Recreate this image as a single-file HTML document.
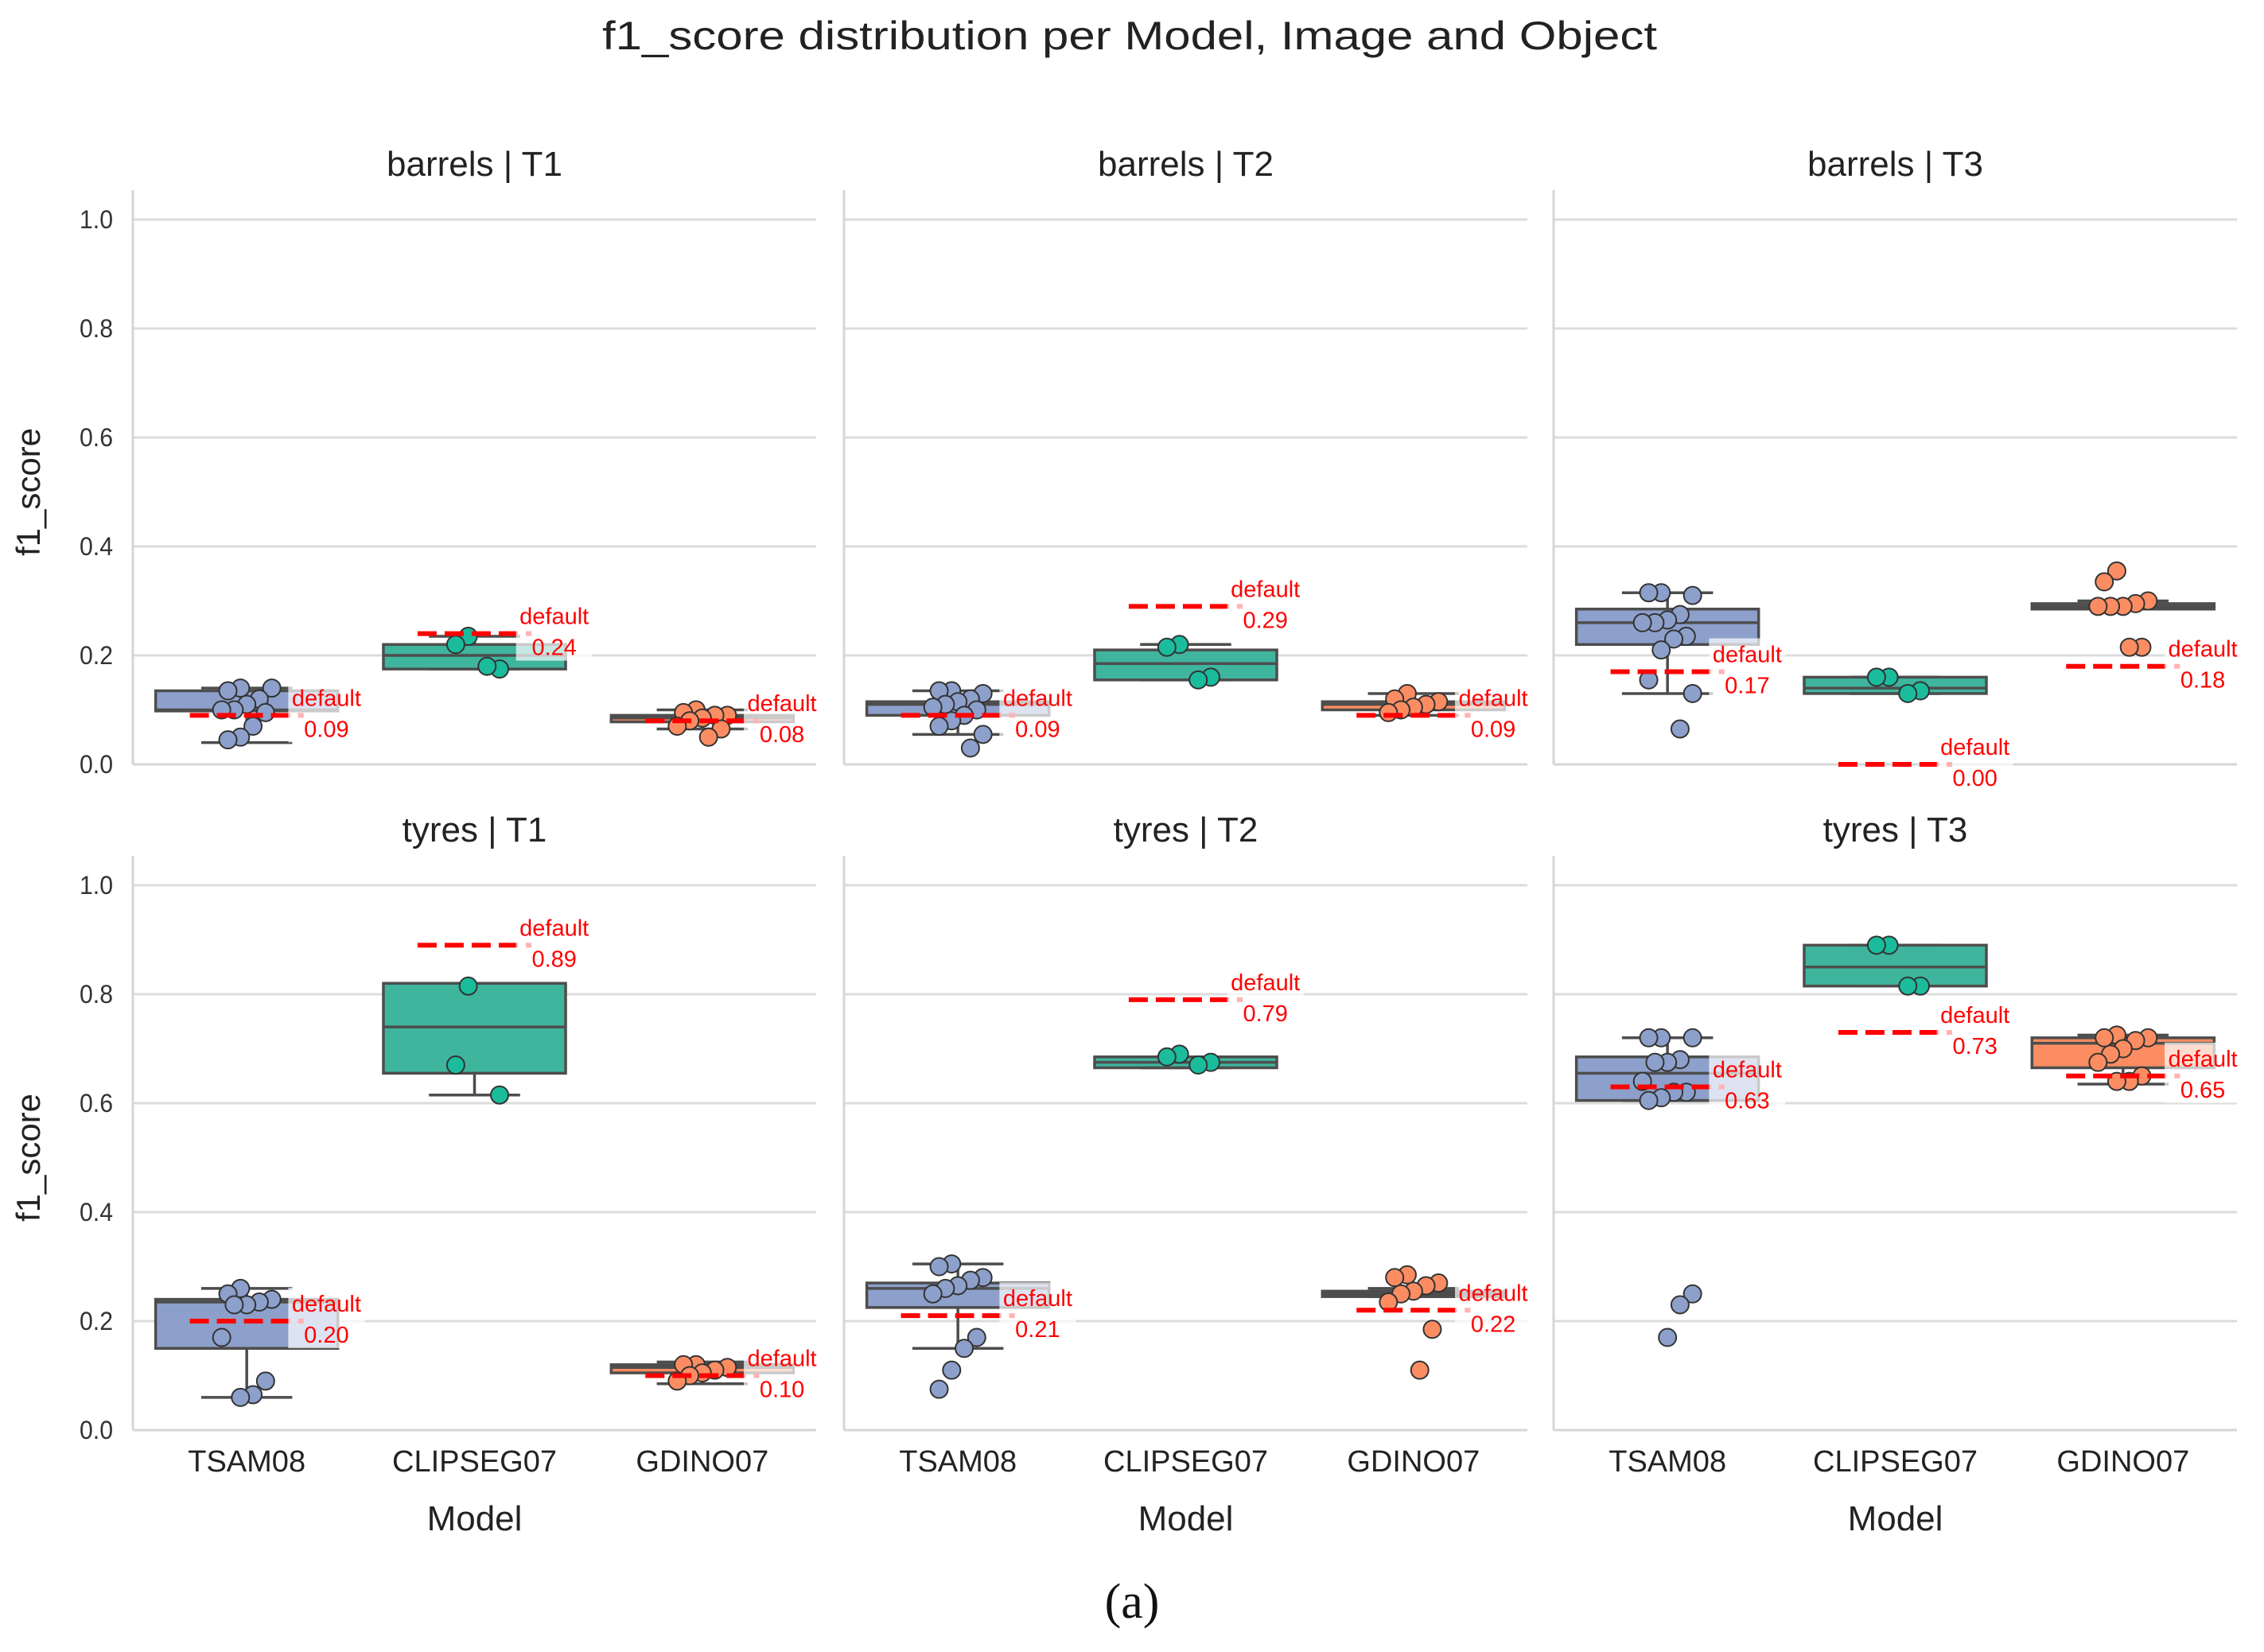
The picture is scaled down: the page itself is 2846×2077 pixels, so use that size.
<!DOCTYPE html>
<html><head><meta charset="utf-8">
<style>
html,body{margin:0;padding:0;background:#fff;}
svg{display:block;font-family:"Liberation Sans",sans-serif;}
</style></head>
<body>
<svg id="chart" width="2846" height="2077" viewBox="0 0 2846 2077" xmlns="http://www.w3.org/2000/svg">
<rect width="2846" height="2077" fill="#fff"/>
<text x="1420" y="62" text-anchor="middle" font-size="50" fill="#222" textLength="1326" lengthAdjust="spacingAndGlyphs">f1_score distribution per Model, Image and Object</text>
<text x="1423" y="2034" text-anchor="middle" font-size="62" fill="#111" font-family="Liberation Serif, serif">(a)</text>
<g id="plots"></g>
</svg>
<script>
// ---- data ----
const models = ["TSAM08", "CLIPSEG07", "GDINO07"];
const objects = ["barrels", "tyres"];
const images = ["T1", "T2", "T3"];
const yTicks = [0, 0.2, 0.4, 0.6, 0.8, 1.0];
const yTickLabels = ["0.0", "0.2", "0.4", "0.6", "0.8", "1.0"];
// per panel (row-major: barrels T1..T3, tyres T1..T3), per model: [whisLo, q1, median, q3, whisHi]
const boxStats = [
  [[0.04,0.098,0.10,0.135,0.14],[0.175,0.175,0.20,0.22,0.235],[0.065,0.078,0.085,0.09,0.10]],
  [[0.055,0.09,0.11,0.115,0.135],[0.155,0.155,0.185,0.21,0.22],[0.09,0.10,0.11,0.115,0.13]],
  [[0.13,0.22,0.26,0.285,0.315],[0.13,0.13,0.14,0.16,0.16],[0.285,0.285,0.29,0.295,0.30]],
  [[0.06,0.15,0.235,0.24,0.26],[0.615,0.655,0.74,0.82,0.82],[0.085,0.105,0.115,0.12,0.125]],
  [[0.15,0.225,0.26,0.27,0.305],[0.665,0.665,0.675,0.685,0.685],[0.245,0.245,0.25,0.255,0.26]],
  [[0.605,0.605,0.655,0.685,0.72],[0.815,0.815,0.85,0.89,0.89],[0.635,0.665,0.71,0.72,0.725]]
];
const pointValues = [
  [[0.14,0.135,0.14,0.12,0.11,0.10,0.10,0.095,0.07,0.05,0.045],[0.235,0.22,0.175,0.18],[0.10,0.095,0.09,0.09,0.085,0.08,0.07,0.065,0.05]],
  [[0.135,0.135,0.13,0.12,0.115,0.11,0.105,0.10,0.09,0.08,0.07,0.055,0.03],[0.22,0.215,0.16,0.155],[0.13,0.12,0.115,0.11,0.105,0.10,0.095]],
  [[0.315,0.315,0.31,0.275,0.265,0.26,0.26,0.235,0.23,0.21,0.155,0.13,0.065],[0.16,0.16,0.135,0.13],[0.355,0.335,0.30,0.295,0.29,0.29,0.29,0.215,0.215]],
  [[0.26,0.25,0.24,0.235,0.23,0.23,0.17,0.09,0.065,0.06],[0.815,0.67,0.615],[0.12,0.12,0.115,0.11,0.105,0.10,0.09]],
  [[0.305,0.30,0.28,0.275,0.265,0.26,0.25,0.17,0.15,0.11,0.075],[0.69,0.685,0.675,0.67],[0.285,0.28,0.27,0.265,0.255,0.25,0.235,0.185,0.11]],
  [[0.72,0.72,0.72,0.68,0.675,0.675,0.64,0.62,0.62,0.61,0.605,0.25,0.23,0.17],[0.89,0.89,0.815,0.815],[0.725,0.72,0.72,0.715,0.70,0.69,0.675,0.65,0.64,0.64]]
];
const defaultValues = [
  [0.09,0.24,0.08],[0.09,0.29,0.09],[0.17,0.00,0.18],
  [0.20,0.89,0.10],[0.21,0.79,0.22],[0.63,0.73,0.65]
];

// ---- style / layout ----
const boxColors = ["#8da0cb","#3fb59e","#fc8d62"];
const pointColors = ["#8da0cb","#1abc9c","#fc8d62"];
const panelX = [167, 1061, 1953];
const panelW = 859;
const rowY0 = [961, 1798];
const rowSpan = 685;
const NS = "http://www.w3.org/2000/svg";
const root = document.getElementById("plots");

function mk(tag, attrs, parent){
  const e = document.createElementNS(NS, tag);
  for (const k in attrs) e.setAttribute(k, attrs[k]);
  (parent||root).appendChild(e);
  return e;
}
function yScale(row, v){ return rowY0[row] - v*rowSpan; }
function xScale(col, m){ return panelX[col] + panelW/3*(m+0.5); }

for (let r=0; r<2; r++){
  for (let c=0; c<3; c++){
    const p = r*3+c;
    const g = mk("g", {});
    
    
    const x0 = panelX[c], x1 = x0+panelW;
    yTicks.forEach((t,i)=>{
      const y = yScale(r,t);
      const gl = mk("line",{x1:x0,x2:x1,y1:y,y2:y,stroke:"#dcdcdc","stroke-width":3},g);
      
      
      if (c===0){
        const tl = mk("text",{x:142,y:y+11,"text-anchor":"end","font-size":32,fill:"#333",textLength:42,lengthAdjust:"spacingAndGlyphs"},g);
        tl.textContent = yTickLabels[i];
        
        
      }
    });
    const top = yScale(r,1.0)-37;
    const sl = mk("line",{x1:x0,x2:x0,y1:top,y2:rowY0[r],stroke:"#d6d6d6","stroke-width":3},g);
    
    
    const sb = mk("line",{x1:x0,x2:x1,y1:rowY0[r],y2:rowY0[r],stroke:"#d6d6d6","stroke-width":3},g);
    
    
    const pt = mk("text",{x:x0+panelW/2,y:top-18,"text-anchor":"middle","font-size":44,fill:"#222"},g);
    pt.textContent = objects[r] + " | " + images[c];
    
    
    if (c===0){
      const yl = mk("text",{x:0,y:0,"text-anchor":"middle","font-size":42,fill:"#222",transform:"translate(50,"+(yScale(r,0.5))+") rotate(-90)"},g);
      yl.textContent = "f1_score";
      
      
    }
    if (r===1){
      models.forEach((m,mi)=>{
        const xt = mk("text",{x:xScale(c,mi),y:1850,"text-anchor":"middle","font-size":38,fill:"#222"},g);
        xt.textContent = m;
        
        
      });
      const xl = mk("text",{x:x0+panelW/2,y:1924,"text-anchor":"middle","font-size":44,fill:"#222"},g);
      xl.textContent = "Model";
      
      
    }
    const bw = panelW/3*0.8;
    models.forEach((m,mi)=>{
      const cx = xScale(c,mi);
      const s = boxStats[p][mi];
      const bg = mk("g",{},g);
      
      
      const wl = mk("line",{x1:cx,x2:cx,y1:yScale(r,s[0]),y2:yScale(r,s[1]),stroke:"#4d4d4d","stroke-width":3.5},bg);
      
      
      const wh = mk("line",{x1:cx,x2:cx,y1:yScale(r,s[3]),y2:yScale(r,s[4]),stroke:"#4d4d4d","stroke-width":3.5},bg);
      
      
      [s[0],s[4]].forEach(v=>{
        const cap = mk("line",{x1:cx-bw/4,x2:cx+bw/4,y1:yScale(r,v),y2:yScale(r,v),stroke:"#4d4d4d","stroke-width":3.5},bg);
        
        
      });
      const rect = mk("rect",{x:cx-bw/2,y:yScale(r,s[3]),width:bw,height:Math.max(2,yScale(r,s[1])-yScale(r,s[3])),fill:boxColors[mi],stroke:"#4d4d4d","stroke-width":3.5},bg);
      
      
      const med = mk("line",{x1:cx-bw/2,x2:cx+bw/2,y1:yScale(r,s[2]),y2:yScale(r,s[2]),stroke:"#4d4d4d","stroke-width":3.5},bg);
      
      
      pointValues[p][mi].forEach((v,i)=>{
        const jit = (((i*7+3)%9)/8 - 0.5) * panelW/3*0.22;
        const pc = mk("circle",{cx:cx+jit,cy:yScale(r,v),r:11,fill:pointColors[mi],stroke:"#333","stroke-width":2},bg);
        
        
      });
      const dv = defaultValues[p][mi];
      const dy = yScale(r,dv);
      const dl = mk("line",{x1:cx-panelW/3*0.25,x2:cx+panelW/3*0.25,y1:dy,y2:dy,stroke:"#ff0000","stroke-width":6,"stroke-dasharray":"24 10"},bg);
      
      
      const tx = cx + panelW/3*0.35;
      const tb = mk("rect",{x:tx-48,y:dy-42,width:96,height:76,fill:"#fff","fill-opacity":0.7},bg);
      
      
      const t1 = mk("text",{x:tx,y:dy-12,"text-anchor":"middle","font-size":29,fill:"#ff0000"},bg);
      t1.textContent = "default";
      
      
      const t2 = mk("text",{x:tx,y:dy+27,"text-anchor":"middle","font-size":29,fill:"#ff0000"},bg);
      t2.textContent = dv.toFixed(2);
      
      
    });
  }
}
</script>
</body></html>
